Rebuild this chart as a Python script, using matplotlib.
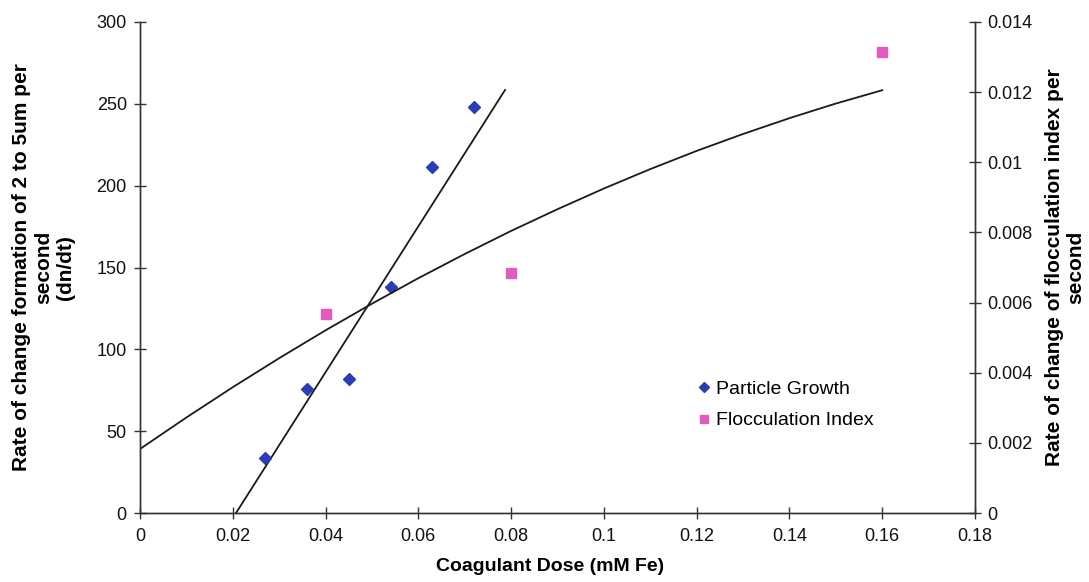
import matplotlib
matplotlib.use("Agg")
import matplotlib.pyplot as plt
from matplotlib.lines import Line2D

plt.rcParams['font.family'] = ['Liberation Sans', 'DejaVu Sans']

# Particle growth (left axis)
dose_pg = [0.027, 0.036, 0.045, 0.054, 0.063, 0.072]
growth = [33.6, 75.7, 82.0, 137.9, 211.2, 247.8]
# straight trend line endpoints
trend_pg_x = [0.0207, 0.0787]
trend_pg_y = [0.0, 258.5]

# Flocculation index (right axis)
dose_fi = [0.04, 0.08, 0.16]
floc = [0.00567, 0.00684, 0.01314]
# curved trend line, read every 0.01
trend_fi_x = [0.0, 0.01, 0.02, 0.03, 0.04, 0.05, 0.06, 0.07, 0.08,
              0.09, 0.10, 0.11, 0.12, 0.13, 0.14, 0.15, 0.16]
trend_fi_y = [0.001825, 0.002723, 0.003587, 0.004414, 0.005209, 0.005968,
              0.006695, 0.007385, 0.008043, 0.008662, 0.009252, 0.009806,
              0.010325, 0.010807, 0.011258, 0.011675, 0.012055]

blue = '#2b3db5'
pink = '#e25cc0'

fig = plt.figure(figsize=(10.89, 5.82), dpi=100)
ax = fig.add_axes([140/1089, 1-513/582, 835/1089, 491/582])
ax2 = ax.twinx()

ax.plot(trend_pg_x, trend_pg_y, color='#1a1a1a', lw=1.3, zorder=2)
ax.plot(dose_pg, growth, linestyle='none', marker='D', ms=6.5, color=blue, zorder=3)

ax2.plot(trend_fi_x, trend_fi_y, color='#1a1a1a', lw=1.3)
ax2.plot(dose_fi, floc, linestyle='none', marker='s', ms=7, color=pink)

ax.set_xlim(0, 0.18)
ax.set_ylim(0, 300)
ax2.set_ylim(0, 0.014)

ax.set_xticks([0, 0.02, 0.04, 0.06, 0.08, 0.1, 0.12, 0.14, 0.16, 0.18])
ax.set_xticklabels(['0', '0.02', '0.04', '0.06', '0.08', '0.1', '0.12', '0.14', '0.16', '0.18'])
ax.set_yticks([0, 50, 100, 150, 200, 250, 300])
ax2.set_yticks([0, 0.002, 0.004, 0.006, 0.008, 0.01, 0.012, 0.014])
ax2.set_yticklabels(['0', '0.002', '0.004', '0.006', '0.008', '0.01', '0.012', '0.014'])

for a in (ax, ax2):
    a.spines['top'].set_visible(False)
    for s in a.spines.values():
        s.set_color('#333333')
        s.set_linewidth(1.0)
    a.tick_params(direction='inout', length=9, width=1.0, colors='#333333',
                  labelsize=13, labelcolor='#111111')
ax.tick_params(axis='y', pad=5)
ax.tick_params(axis='x', pad=6)
ax2.tick_params(axis='y', pad=4)

ax.set_xlabel('Coagulant Dose (mM Fe)', fontsize=14, fontweight='bold',
              va='center', ha='center')
ax.xaxis.set_label_coords(0.491, -0.108)
ax.set_ylabel('Rate of change formation of 2 to 5um per\nsecond\n(dn/dt)',
              fontsize=15, fontweight='bold', linespacing=1.2,
              va='center', ha='center')
ax.yaxis.set_label_coords(-0.115, 0.5)
ax2.set_ylabel('Rate of change of flocculation index per\nsecond',
               fontsize=15, fontweight='bold', linespacing=1.2,
               rotation=90, va='center', ha='center')
ax2.yaxis.set_label_coords(1.1078, 0.5)

handles = [Line2D([], [], linestyle='none', marker='D', ms=5, color=blue),
           Line2D([], [], linestyle='none', marker='s', ms=6, color=pink)]
ax.legend(handles, ['Particle Growth', 'Flocculation Index'], loc='center left',
          bbox_to_anchor=(0.658, 0.22), frameon=False, fontsize=14,
          handlelength=0.5, handletextpad=0.35, labelspacing=0.7, borderpad=0)

fig.savefig('out.png', dpi=100)
